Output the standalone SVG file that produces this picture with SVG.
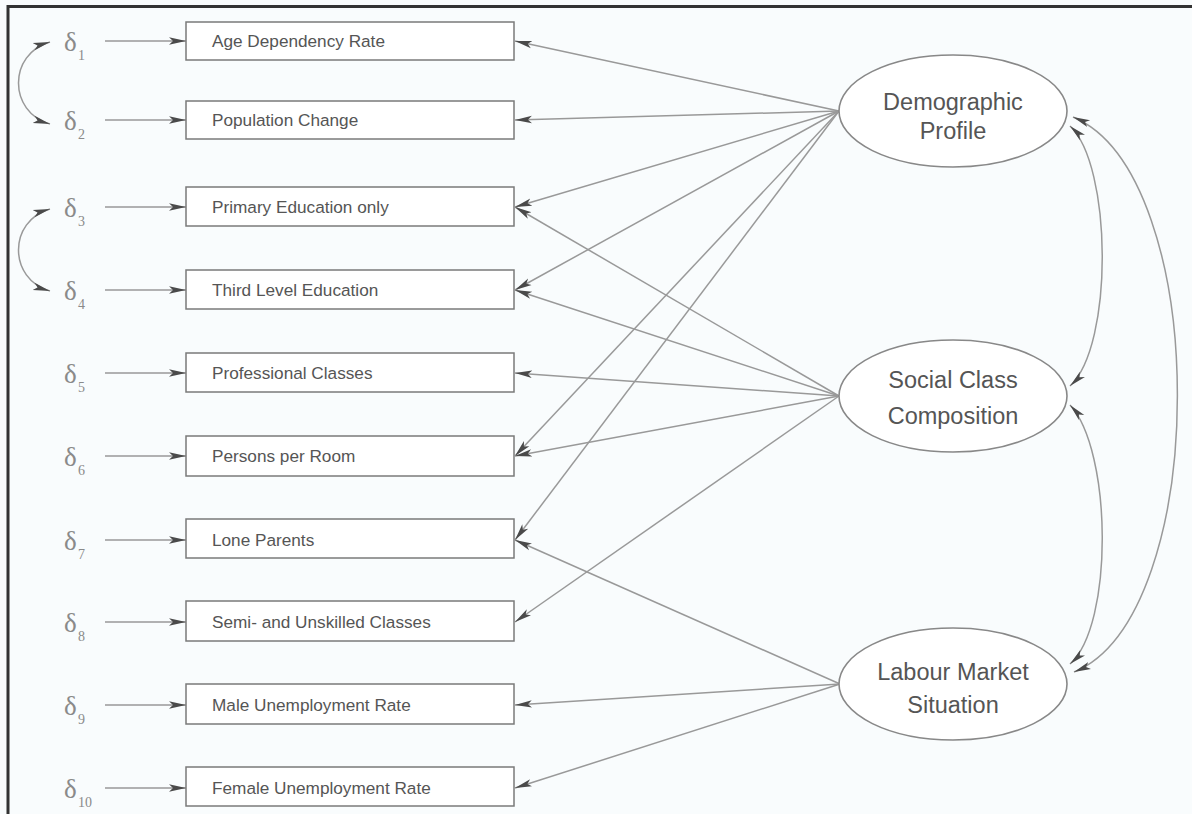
<svg xmlns="http://www.w3.org/2000/svg" width="1192" height="814" viewBox="0 0 1192 814">
<defs>
<style>
.box rect{fill:#fff;stroke:#7a7a7a;stroke-width:1.5}
.box text{font-family:"Liberation Sans",Arial,sans-serif;font-size:17.2px;fill:#555}
.lat ellipse{fill:#fff;stroke:#888;stroke-width:1.6}
.lat text{font-family:"Liberation Sans",Arial,sans-serif;font-size:23.5px;fill:#555;text-anchor:middle}
.err text{font-family:"Liberation Serif","Times New Roman",serif;fill:#8a8a8a}
.err .d{font-size:27px}
.err .s{font-size:14px}
.c line,.c path{stroke:#999;stroke-width:1.5;fill:none}
.a{marker-end:url(#ah)}
.b{marker-start:url(#ah);marker-end:url(#ah)}
</style>
<marker id="ah" markerUnits="userSpaceOnUse" markerWidth="20" markerHeight="10" refX="17" refY="4.5" orient="auto-start-reverse">
<path d="M0,0.8 L17,4.5 L0,8.2 L4,4.5 z" fill="#4a4a4a"/>
</marker>
</defs>
<rect x="0" y="0" width="1192" height="814" fill="#f9fcfd"/>
<path d="M8,814 L8,6.5 L1192,6.5" fill="none" stroke="#333" stroke-width="3"/>

<g id="connectors" class="c">
<line class="a" x1="105" y1="41" x2="186" y2="41"/>
<line class="a" x1="105" y1="120" x2="186" y2="120"/>
<line class="a" x1="105" y1="207" x2="186" y2="207"/>
<line class="a" x1="105" y1="290" x2="186" y2="290"/>
<line class="a" x1="105" y1="373" x2="186" y2="373"/>
<line class="a" x1="105" y1="456" x2="186" y2="456"/>
<line class="a" x1="105" y1="540" x2="186" y2="540"/>
<line class="a" x1="105" y1="622" x2="186" y2="622"/>
<line class="a" x1="105" y1="705" x2="186" y2="705"/>
<line class="a" x1="105" y1="788" x2="186" y2="788"/>
<path class="b" d="M50,42 C8,54 8,112 50,124"/>
<path class="b" d="M50,209 C8,221 8,279 50,291"/>
<line class="a" x1="839" y1="111" x2="515" y2="41"/>
<line class="a" x1="839" y1="111" x2="515" y2="120"/>
<line class="a" x1="839" y1="111" x2="515" y2="207"/>
<line class="a" x1="839" y1="111" x2="515" y2="290"/>
<line class="a" x1="839" y1="111" x2="515" y2="456"/>
<line class="a" x1="839" y1="111" x2="515" y2="540"/>
<line class="a" x1="839" y1="396" x2="515" y2="207"/>
<line class="a" x1="839" y1="396" x2="515" y2="290"/>
<line class="a" x1="839" y1="396" x2="515" y2="373"/>
<line class="a" x1="839" y1="396" x2="515" y2="456"/>
<line class="a" x1="839" y1="396" x2="515" y2="622"/>
<line class="a" x1="840" y1="684" x2="515" y2="540"/>
<line class="a" x1="840" y1="684" x2="515" y2="705"/>
<line class="a" x1="840" y1="684" x2="515" y2="788"/>
<path class="b" d="M1070,126 C1112,165 1114,345 1070,386"/>
<path class="b" d="M1070,405 C1112,450 1114,625 1070,664"/>
<path class="b" d="M1073,117 C1212,175 1212,615 1074,672"/>
</g>

<g id="errors" class="err">
<g id="d1"><text class="d" x="64" y="51">δ</text><text class="s" x="78" y="60">1</text></g>
<g id="d2"><text class="d" x="64" y="130">δ</text><text class="s" x="78" y="139">2</text></g>
<g id="d3"><text class="d" x="64" y="217">δ</text><text class="s" x="78" y="226">3</text></g>
<g id="d4"><text class="d" x="64" y="300">δ</text><text class="s" x="78" y="309">4</text></g>
<g id="d5"><text class="d" x="64" y="383">δ</text><text class="s" x="78" y="392">5</text></g>
<g id="d6"><text class="d" x="64" y="466">δ</text><text class="s" x="78" y="475">6</text></g>
<g id="d7"><text class="d" x="64" y="550">δ</text><text class="s" x="78" y="559">7</text></g>
<g id="d8"><text class="d" x="64" y="632">δ</text><text class="s" x="78" y="641">8</text></g>
<g id="d9"><text class="d" x="64" y="715">δ</text><text class="s" x="78" y="724">9</text></g>
<g id="d10"><text class="d" x="64" y="798">δ</text><text class="s" x="78" y="807">10</text></g>
</g>

<g id="box1" class="box"><rect x="186" y="22" width="328" height="38"/><text x="212" y="47">Age Dependency Rate</text></g>
<g id="box2" class="box"><rect x="186" y="101" width="328" height="38"/><text x="212" y="126">Population Change</text></g>
<g id="box3" class="box"><rect x="186" y="187" width="328" height="39"/><text x="212" y="213">Primary Education only</text></g>
<g id="box4" class="box"><rect x="186" y="270" width="328" height="39"/><text x="212" y="296">Third Level Education</text></g>
<g id="box5" class="box"><rect x="186" y="353" width="328" height="39"/><text x="212" y="379">Professional Classes</text></g>
<g id="box6" class="box"><rect x="186" y="436" width="328" height="40"/><text x="212" y="462">Persons per Room</text></g>
<g id="box7" class="box"><rect x="186" y="519" width="328" height="39"/><text x="212" y="546">Lone Parents</text></g>
<g id="box8" class="box"><rect x="186" y="601" width="328" height="40"/><text x="212" y="628">Semi- and Unskilled Classes</text></g>
<g id="box9" class="box"><rect x="186" y="684" width="328" height="40"/><text x="212" y="711">Male Unemployment Rate</text></g>
<g id="box10" class="box"><rect x="186" y="767" width="328" height="39"/><text x="212" y="794">Female Unemployment Rate</text></g>

<g id="demographic" class="lat"><ellipse cx="953" cy="111" rx="114" ry="56"/><text x="953" y="110">Demographic</text><text x="953" y="139">Profile</text></g>
<g id="socialclass" class="lat"><ellipse cx="953" cy="396" rx="114" ry="56"/><text x="953" y="388">Social Class</text><text x="953" y="424">Composition</text></g>
<g id="labour" class="lat"><ellipse cx="953" cy="684" rx="114" ry="56"/><text x="953" y="680">Labour Market</text><text x="953" y="713">Situation</text></g>
</svg>
